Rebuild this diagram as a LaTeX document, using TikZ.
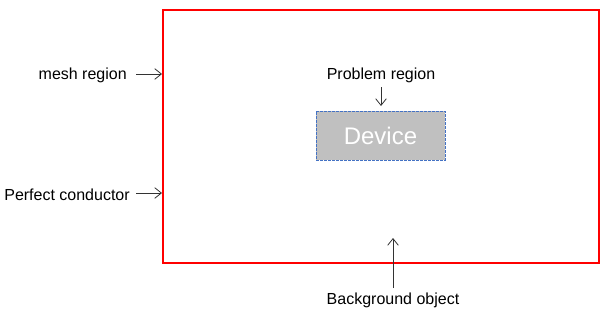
\documentclass[tikz,border=0pt]{standalone}
\usepackage{fontspec}
\setmainfont{Liberation Sans}
\usetikzlibrary{arrows.meta}
\begin{document}
\begin{tikzpicture}[x=0.75pt,y=-0.75pt,
  lbl/.style={font=\fontsize{12}{14}\selectfont, inner sep=0pt},
  arr/.style={draw=black!80, line width=0.6pt, -{Straight Barb[length=5pt,width=8pt]}}]
\useasboundingbox (0,0) rectangle (610,314);
\draw[red, line width=1.5pt] (163,10) rectangle (599,263);
\node[draw={rgb,255:red,68;green,114;blue,196}, dashed, dash pattern=on 2pt off 1pt, line width=0.5pt,
  fill={rgb,255:red,192;green,192;blue,192}, minimum width=129*0.75pt, minimum height=49*0.75pt,
  text=white, font=\fontsize{18}{20}\selectfont, inner sep=0pt] (dev) at (380.5,135.5) {Device};
\node[lbl] (prob) at (381,75.5) {Problem region};
\coordinate (probtip) at (381,106);
\draw[arr] (381,87) -- (probtip);
\node[lbl, anchor=east] (mesh) at (127,75.5) {mesh region};
\coordinate (meshtip) at (162,74);
\draw[arr] (136,74) -- (meshtip);
\node[lbl, anchor=east] (pc) at (130,194.5) {Perfect conductor};
\coordinate (pctip) at (162,193);
\draw[arr] (136,193) -- (pctip);
\node[lbl] (bg) at (393,300.5) {Background object};
\coordinate (bgtip) at (393,238);
\draw[arr] (393,288) -- (bgtip);
\end{tikzpicture}
\end{document}
